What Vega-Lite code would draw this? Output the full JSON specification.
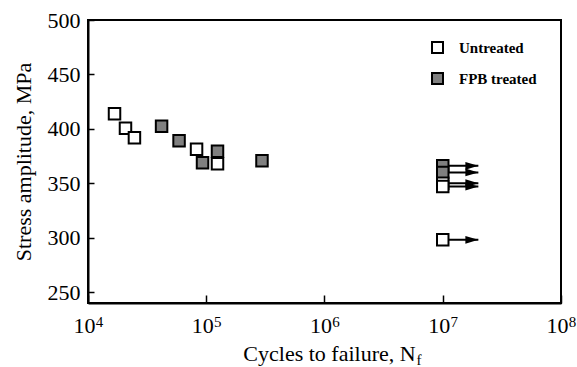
{
  "$schema": "https://vega.github.io/schema/vega-lite/v6.json",
  "width": 473,
  "height": 283,
  "autosize": {"type": "none"},
  "padding": {"left": 88, "top": 20, "right": 16, "bottom": 64},
  "background": "white",
  "config": {
    "font": "Liberation Serif",
    "view": {"stroke": "black", "strokeWidth": 2},
    "axis": {"grid": false, "domainColor": "black", "domainWidth": 2, "tickColor": "black", "tickWidth": 1.5, "labelColor": "black", "titleColor": "black", "labelFont": "Liberation Serif", "titleFont": "Liberation Serif", "labelFontSize": 22, "titleFontSize": 22, "titleFontWeight": "normal", "labelFlush": false}
  },
  "datasets": {
    "pts": [
      {"N": 41900, "stress": 402.4, "series": "FPB treated"},
      {"N": 58900, "stress": 389.1, "series": "FPB treated"},
      {"N": 93000, "stress": 368.8, "series": "FPB treated"},
      {"N": 124500, "stress": 379.4, "series": "FPB treated"},
      {"N": 296000, "stress": 370.6, "series": "FPB treated"},
      {"N": 10000000, "stress": 366, "series": "FPB treated"},
      {"N": 10000000, "stress": 360, "series": "FPB treated"},
      {"N": 16760, "stress": 413.9, "series": "Untreated"},
      {"N": 20750, "stress": 400.6, "series": "Untreated"},
      {"N": 24700, "stress": 391.8, "series": "Untreated"},
      {"N": 82800, "stress": 381.2, "series": "Untreated"},
      {"N": 124500, "stress": 367.9, "series": "Untreated"},
      {"N": 10000000, "stress": 350, "series": "Untreated"},
      {"N": 10000000, "stress": 347, "series": "Untreated"},
      {"N": 10000000, "stress": 298, "series": "Untreated"}
    ],
    "arrows": [
      {"N": 10000000, "Nend": 20000000, "stress": 366},
      {"N": 10000000, "Nend": 20000000, "stress": 360},
      {"N": 10000000, "Nend": 20000000, "stress": 350},
      {"N": 10000000, "Nend": 20000000, "stress": 347},
      {"N": 10000000, "Nend": 20000000, "stress": 298}
    ]
  },
  "resolve": {"axis": {"x": "independent"}},
  "layer": [
    {
      "data": {"name": "arrows"},
      "mark": {"type": "rule", "color": "black", "strokeWidth": 2},
      "encoding": {
        "x": {
          "field": "N", "type": "quantitative",
          "scale": {"type": "log", "domain": [10000, 100000000]},
          "axis": {"orient": "bottom", "values": [10000, 100000, 1000000, 10000000, 100000000], "ticks": false, "domain": false, "labelPadding": 11, "labelFontSize": 15, "labelOffset": 11, "labelExpr": "format(round(log(datum.value)/LN10), 'd')", "title": "f", "titleFontSize": 15, "titleX": 328, "titleY": 61, "titleAlign": "left", "titleBaseline": "alphabetic"}
        },
        "x2": {"field": "Nend"},
        "y": {"field": "stress", "type": "quantitative", "scale": {"domain": [250, 500]}}
      }
    },
    {
      "data": {"name": "arrows"},
      "mark": {"type": "point", "shape": "M 0 0 L -2 -0.6 L -2 0.6 Z", "filled": true, "color": "black", "opacity": 1, "size": 169},
      "encoding": {
        "x": {"field": "Nend", "type": "quantitative", "axis": null},
        "y": {"field": "stress", "type": "quantitative"}
      }
    },
    {
      "data": {"name": "pts"},
      "mark": {"type": "point", "shape": "square", "filled": true, "stroke": "black", "strokeWidth": 2, "opacity": 1, "size": 132},
      "encoding": {
        "x": {
          "field": "N", "type": "quantitative",
          "scale": {"type": "log", "domain": [10000, 100000000]},
          "axis": {"orient": "bottom", "values": [10000, 100000, 1000000, 10000000, 100000000], "tickSize": -8, "labelPadding": 20, "labelOffset": -4, "labelExpr": "'10'", "title": "Cycles to failure, N", "titleX": 241, "titleY": 57, "titleBaseline": "alphabetic"}
        },
        "y": {
          "field": "stress", "type": "quantitative",
          "scale": {"domain": [250, 500]},
          "axis": {"values": [250, 300, 350, 400, 450, 500], "tickSize": -6, "labelPadding": 14, "title": "Stress amplitude, MPa", "titlePadding": 12}
        },
        "fill": {
          "field": "series", "type": "nominal",
          "scale": {"domain": ["Untreated", "FPB treated"], "range": ["white", "#808080"]},
          "legend": {"title": null, "orient": "none", "legendX": 342, "legendY": 20, "symbolType": "square", "symbolSize": 121, "symbolStrokeColor": "black", "symbolStrokeWidth": 2, "symbolOpacity": 1, "labelFont": "Liberation Serif", "labelFontSize": 15, "labelFontWeight": "bold", "labelColor": "black", "labelOffset": 14, "rowPadding": 12, "padding": 0}
        }
      }
    }
  ]
}
